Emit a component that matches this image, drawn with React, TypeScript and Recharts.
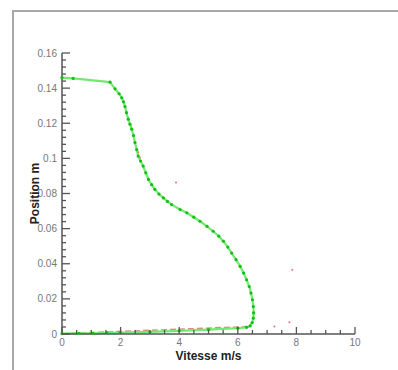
import { ComposedChart, Line, Scatter, XAxis, YAxis, Label } from "recharts";

// measured velocity / position path (green, with markers)
const greenPath = [
  { v: 0, p: 0.146 },
  { v: 0.38, p: 0.1455 },
  { v: 1.64, p: 0.1434 },
  { v: 1.81, p: 0.1396 },
  { v: 1.95, p: 0.1368 },
  { v: 2.04, p: 0.1345 },
  { v: 2.1, p: 0.1322 },
  { v: 2.15, p: 0.1295 },
  { v: 2.2, p: 0.126 },
  { v: 2.26, p: 0.1223 },
  { v: 2.32, p: 0.1195 },
  { v: 2.38, p: 0.1166 },
  { v: 2.44, p: 0.113 },
  { v: 2.49, p: 0.109 },
  { v: 2.55, p: 0.105 },
  { v: 2.6, p: 0.1013 },
  { v: 2.68, p: 0.0985 },
  { v: 2.77, p: 0.0956 },
  { v: 2.86, p: 0.0918 },
  { v: 2.95, p: 0.088 },
  { v: 3.06, p: 0.085 },
  { v: 3.17, p: 0.0823 },
  { v: 3.31, p: 0.0797 },
  { v: 3.46, p: 0.0775 },
  { v: 3.6, p: 0.0755 },
  { v: 3.74, p: 0.0737 },
  { v: 4.03, p: 0.0709 },
  { v: 4.26, p: 0.069 },
  { v: 4.5, p: 0.0665 },
  { v: 4.71, p: 0.0642 },
  { v: 4.95, p: 0.0613 },
  { v: 5.16, p: 0.0585 },
  { v: 5.35, p: 0.0557 },
  { v: 5.51, p: 0.0528 },
  { v: 5.66, p: 0.0495 },
  { v: 5.79, p: 0.0461 },
  { v: 5.94, p: 0.0423 },
  { v: 6.08, p: 0.0385 },
  { v: 6.2, p: 0.0347 },
  { v: 6.3, p: 0.0309 },
  { v: 6.39, p: 0.027 },
  { v: 6.45, p: 0.0233 },
  { v: 6.5, p: 0.0195 },
  { v: 6.53, p: 0.0156 },
  { v: 6.54, p: 0.012 },
  { v: 6.53, p: 0.009 },
  { v: 6.49, p: 0.0065 },
  { v: 6.42, p: 0.0046 },
  { v: 6.3, p: 0.0038 },
  { v: 6.0, p: 0.0033 },
  { v: 5.0, p: 0.0025 },
  { v: 4.0, p: 0.0018 },
  { v: 3.0, p: 0.0012 },
  { v: 1.98, p: 0.0008 },
  { v: 1.53, p: 0.0006 },
  { v: 1.06, p: 0.0004 },
  { v: 0.58, p: 0.0003 },
  { v: 0, p: 0.0002 },
];

// red dashed reference line along the bottom
const redPath = [
  { v: 0, p: 0.0002 },
  { v: 6.3, p: 0.0042 },
];

// stray red points
const redDots = [
  { v: 2.6, p: 0.1035 },
  { v: 2.66, p: 0.1005 },
  { v: 3.89, p: 0.0863 },
  { v: 7.86, p: 0.0366 },
  { v: 7.25, p: 0.0042 },
  { v: 7.76, p: 0.0067 },
];

const xTicks = [0, 0.5, 1, 1.5, 2, 2.5, 3, 3.5, 4, 4.5, 5, 5.5, 6, 6.5, 7, 7.5, 8, 8.5, 9, 9.5, 10];
const xMajor = [0, 2, 4, 6, 8, 10];
const yTicks = [
  0, 0.004, 0.008, 0.012, 0.016, 0.02, 0.024, 0.028, 0.032, 0.036, 0.04, 0.044, 0.048, 0.052,
  0.056, 0.06, 0.064, 0.068, 0.072, 0.076, 0.08, 0.084, 0.088, 0.092, 0.096, 0.1, 0.104, 0.108,
  0.112, 0.116, 0.12, 0.124, 0.128, 0.132, 0.136, 0.14, 0.144, 0.148, 0.152, 0.156, 0.16,
];
const yMajor = [0, 0.02, 0.04, 0.06, 0.08, 0.1, 0.12, 0.14, 0.16];

const axisColor = "#555";
const tickText = "#777";
const font = "Liberation Sans, Arial, sans-serif";

function XTick(props: any) {
  const { x, y, payload } = props;
  const major = xMajor.includes(payload.value);
  return (
    <g>
      <line x1={x} y1={y} x2={x} y2={y - (major ? 7 : 4)} stroke={axisColor} strokeWidth={1.3} />
      {major && (
        <text x={x} y={y + 11.5} textAnchor="middle" fontSize={10} fill={tickText} fontFamily={font}>
          {payload.value}
        </text>
      )}
    </g>
  );
}

function YTick(props: any) {
  const { x, y, payload } = props;
  const major = yMajor.includes(payload.value);
  return (
    <g>
      <line x1={x} y1={y} x2={x + (major ? 8 : 4)} y2={y} stroke={axisColor} strokeWidth={1.3} />
      {major && (
        <text x={x - 5} y={y + 3.5} textAnchor="end" fontSize={10} fill={tickText} fontFamily={font}>
          {payload.value}
        </text>
      )}
    </g>
  );
}

export default function App() {
  return (
    <div style={{ position: "absolute", left: 0, top: 0, width: 398, height: 370, background: "#fff" }}>
      <div
        style={{
          position: "absolute",
          left: 12,
          top: 10,
          width: 386,
          height: 360,
          borderTop: "2px solid #a8a8a8",
          borderLeft: "2px solid #a8a8a8",
        }}
      />
      <div style={{ position: "absolute", left: 0, top: 0 }}>
        <ComposedChart width={398} height={370} margin={{ top: 53, right: 43, left: 12, bottom: 6 }}>
          <XAxis
            type="number"
            dataKey="v"
            domain={[0, 10]}
            ticks={xTicks}
            interval={0}
            height={30}
            tickSize={0}
            tickMargin={0}
            tickLine={false}
            tick={<XTick />}
            axisLine={{ stroke: axisColor, strokeWidth: 1.5 }}
          >
            <Label
              value="Vitesse m/s"
              position="insideBottom"
              offset={4}
              style={{ fontSize: 12, fontWeight: "bold", fill: "#222", fontFamily: font }}
            />
          </XAxis>
          <YAxis
            type="number"
            dataKey="p"
            domain={[0, 0.16]}
            ticks={yTicks}
            interval={0}
            width={50}
            tickSize={0}
            tickMargin={0}
            tickLine={false}
            tick={<YTick />}
            axisLine={{ stroke: axisColor, strokeWidth: 1.5 }}
          >
            <Label
              value="Position m"
              angle={-90}
              position="insideLeft"
              offset={23}
              style={{ textAnchor: "middle", fontSize: 12, fontWeight: "bold", fill: "#222", fontFamily: font }}
            />
          </YAxis>
          <Line
            data={redPath}
            dataKey="p"
            type="linear"
            stroke="#e08a78"
            strokeWidth={1.5}
            strokeDasharray="6 3"
            dot={false}
            isAnimationActive={false}
          />
          <Line
            data={greenPath}
            dataKey="p"
            type="linear"
            stroke="#72ea72"
            strokeWidth={2.2}
            dot={{ r: 1.6, fill: "#12c012", stroke: "none" }}
            isAnimationActive={false}
          />
          <Scatter
            data={redDots}
            dataKey="p"
            fill="#f07070"
            shape={(p: any) => <circle cx={p.cx} cy={p.cy} r={1} fill="#f07070" />}
            isAnimationActive={false}
          />
        </ComposedChart>
      </div>
    </div>
  );
}
